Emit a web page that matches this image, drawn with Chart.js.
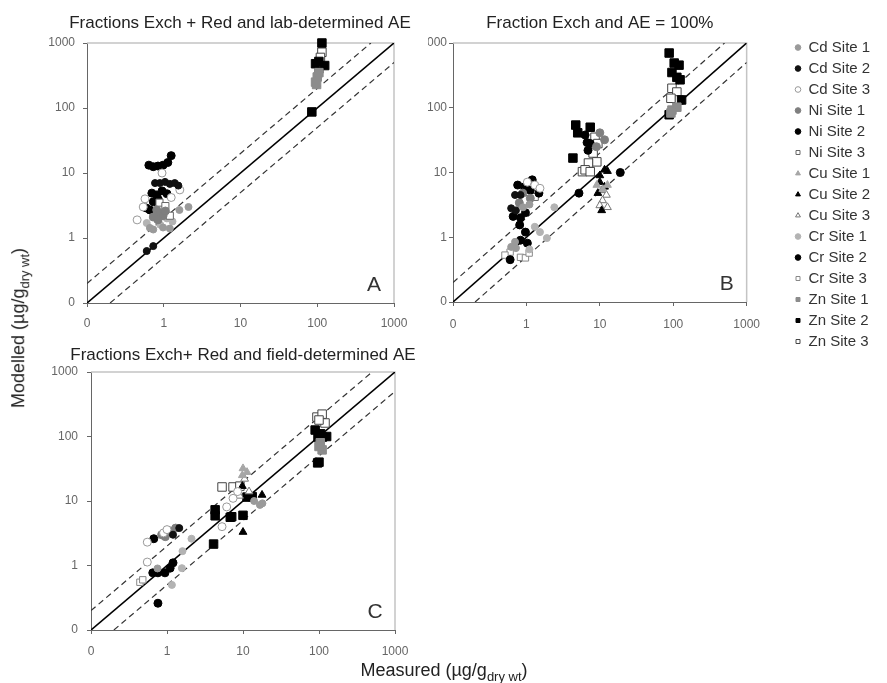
<!DOCTYPE html>
<html>
<head>
<meta charset="utf-8">
<script src="https://cdn.jsdelivr.net/npm/chart.js@4.4.1/dist/chart.umd.min.js"></script>
<style>
  body { margin: 0; width: 887px; height: 683px; overflow: hidden; background: #fff; position: relative;
         font-family: 'Liberation Sans', Arial, sans-serif; color: #222; }
  canvas { position: absolute; }
  .axis-title { position: absolute; font-size: 18px; white-space: nowrap; color: #222; }
  .axis-title sub { font-size: 13px; }
  #yTitle { left: 20px; top: 328px; transform: translate(-50%, -50%) rotate(-90deg); }
  #xTitle { left: 444px; top: 672px; transform: translate(-50%, -50%); }
</style>
</head>
<body>
<canvas id="chartA" width="480" height="340" style="left:0;top:0;width:480px;height:340px"></canvas>
<canvas id="chartB" width="343" height="340" style="left:428px;top:0;width:343px;height:340px"></canvas>
<canvas id="chartC" width="486" height="343" style="left:0;top:340px;width:486px;height:343px"></canvas>
<canvas id="legend" width="98" height="660" style="left:789px;top:34px;width:98px;height:660px"></canvas>
<div id="yTitle" class="axis-title">Modelled (µg/g<sub>dry wt</sub>)</div>
<div id="xTitle" class="axis-title">Measured (µg/g<sub>dry wt</sub>)</div>
<script>
// === Data ===
const seriesNames = ['Cd Site 1', 'Cd Site 2', 'Cd Site 3', 'Ni Site 1', 'Ni Site 2', 'Ni Site 3',
  'Cu Site 1', 'Cu Site 2', 'Cu Site 3', 'Cr Site 1', 'Cr Site 2', 'Cr Site 3',
  'Zn Site 1', 'Zn Site 2', 'Zn Site 3'];
const seriesCodes = ['Cd1', 'Cd2', 'Cd3', 'Ni1', 'Ni2', 'Ni3', 'Cu1', 'Cu2', 'Cu3',
  'Cr1', 'Cr2', 'Cr3', 'Zn1', 'Zn2', 'Zn3'];

const panelTitles = ['Fractions Exch + Red and lab-determined AE', 'Fraction Exch and AE = 100%',
  'Fractions Exch+ Red and field-determined AE'];
const panelLetters = ['A', 'B', 'C'];

const tickValues = [0.1, 1, 10, 100, 1000];
const tickLabels = ['0', '1', '10', '100', '1000'];

// 1:1 line and factor-of-2 lines
const oneToOneX = [0.1, 1000];
const oneToOneY = [0.1, 1000];
const upperX = [0.1, 500];
const upperY = [0.2, 1000];
const lowerX = [0.2, 1000];
const lowerY = [0.1, 500];

// [series, measured, modelled]
const pointsA = [
  ['Ni2', 0.64, 13.2], ['Ni2', 0.73, 12.5], ['Ni2', 0.84, 12.8], ['Ni2', 0.98, 13.2], ['Ni2', 1.13, 14.5], ['Ni2', 1.25, 18.5],
  ['Cd2', 0.77, 7.0], ['Cd2', 0.89, 7.0], ['Cd2', 1.04, 7.3], ['Cd2', 1.2, 6.8], ['Cd2', 1.39, 7.0], ['Cd2', 1.55, 6.4],
  ['Cd2', 0.6, 0.63], ['Cd2', 0.73, 0.75],
  ['Cr2', 0.7, 4.9], ['Cr2', 0.81, 4.6], ['Cr2', 0.95, 5.3], ['Cr2', 1.1, 4.8], ['Cr2', 0.73, 3.6], ['Cr2', 0.66, 2.7],
  ['Cr2', 0.59, 2.9], ['Cr2', 0.85, 3.9],
  ['Cd3', 0.95, 10], ['Cd3', 1.62, 5.5], ['Cd3', 0.57, 4.0], ['Cd3', 0.54, 3.0], ['Cd3', 0.45, 1.9], ['Cd3', 1.25, 4.2],
  ['Ni3', 0.88, 3.5], ['Ni3', 1.05, 3.1], ['Ni3', 1.2, 2.2],
  ['Ni1', 0.81, 2.7], ['Ni1', 0.89, 2.4], ['Ni1', 0.98, 2.2], ['Ni1', 0.73, 2.1], ['Ni1', 0.84, 1.9], ['Ni1', 1.05, 2.6],
  ['Cd1', 0.66, 1.43], ['Cd1', 0.73, 1.35], ['Cd1', 0.98, 1.45], ['Cd1', 1.2, 1.4], ['Cd1', 1.6, 2.7], ['Cd1', 2.1, 3.0],
  ['Cr1', 1.1, 2.0], ['Cr1', 1.3, 1.8], ['Cr1', 0.9, 1.6], ['Cr1', 0.6, 1.7],
  ['Zn2', 115, 1000], ['Zn2', 125, 450], ['Zn2', 95, 480], ['Zn2', 85, 87], ['Zn2', 105, 520],
  ['Zn3', 115, 720], ['Zn3', 110, 600], ['Zn3', 105, 400],
  ['Zn1', 95, 250], ['Zn1', 100, 300], ['Zn1', 105, 350], ['Zn1', 98, 230],
];

const pointsB = [
  ['Ni2', 1.2, 7.7], ['Ni2', 0.76, 6.4], ['Ni2', 0.94, 6.0], ['Ni2', 1.13, 5.3], ['Ni2', 1.48, 4.8],
  ['Cd2', 0.7, 4.5], ['Cd2', 0.83, 4.5], ['Cd2', 0.62, 2.8], ['Cd2', 0.72, 2.6],
  ['Cr2', 0.66, 2.1], ['Cr2', 0.83, 2.0], ['Cr2', 0.97, 2.4],
  ['Cd3', 1.03, 7.1], ['Cd3', 1.3, 6.4], ['Cd3', 1.53, 5.7],
  ['Ni3', 1.03, 5.0], ['Ni3', 1.3, 4.2],
  ['Ni1', 0.89, 4.8], ['Ni1', 1.13, 4.0], ['Ni1', 0.8, 3.4],
  ['Cd1', 0.9, 2.9], ['Cd1', 1.1, 3.2],
  ['Cr2', 0.81, 1.55], ['Cr2', 0.97, 1.2], ['Cr2', 0.83, 0.9], ['Cr2', 1.03, 0.81], ['Cr2', 0.6, 0.45],
  ['Cd1', 0.7, 0.85], ['Cd1', 0.62, 0.71], ['Cd1', 0.72, 0.68],
  ['Cr3', 0.6, 0.59], ['Cr3', 0.83, 0.49], ['Cr3', 0.97, 0.48], ['Cr3', 1.09, 0.57], ['Cr3', 0.51, 0.53],
  ['Cr1', 1.3, 1.45], ['Cr1', 1.53, 1.2], ['Cr1', 1.9, 0.97], ['Cr1', 2.4, 2.9], ['Cr1', 1.1, 0.65],
  ['Zn2', 4.7, 54], ['Zn2', 7.4, 50], ['Zn2', 5.0, 41], ['Zn2', 4.3, 16.7],
  ['Ni2', 6.3, 38], ['Ni2', 6.7, 29], ['Ni2', 6.9, 22], ['Ni2', 7.4, 28],
  ['Zn3', 8.6, 35], ['Zn3', 9.4, 28], ['Zn3', 8.1, 20], ['Zn3', 9.1, 14.6], ['Zn3', 7, 14], ['Zn3', 5.8, 10.3],
  ['Zn3', 6.3, 11], ['Zn3', 7.4, 10.3],
  ['Ni1', 10, 41], ['Ni1', 11.6, 32], ['Ni1', 9, 25],
  ['Cu2', 11.6, 11], ['Cu2', 12.7, 10.5], ['Cu2', 10, 9],
  ['Cr2', 19, 10], ['Cr2', 5.2, 4.8],
  ['Cu2', 10, 7.1], ['Cu2', 11.6, 6], ['Cu2', 9.4, 4.8], ['Cu2', 10.6, 2.6],
  ['Cu3', 10.6, 5.3], ['Cu3', 12.3, 4.5], ['Cu3', 10.9, 3.7], ['Cu3', 10, 3.1], ['Cu3', 12.7, 2.9],
  ['Cu1', 9.1, 6.4], ['Cu1', 12.7, 6.4], ['Cu1', 11, 5.5],
  ['Zn2', 88, 700], ['Zn2', 103, 490], ['Zn2', 120, 455], ['Zn2', 96, 350], ['Zn2', 112, 295], ['Zn2', 124, 270],
  ['Zn2', 88, 78], ['Zn2', 130, 132],
  ['Zn3', 96, 200], ['Zn3', 112, 175], ['Zn3', 120, 132], ['Zn3', 93, 140],
  ['Zn1', 96, 92], ['Zn1', 112, 102], ['Zn1', 93, 83],
];

const pointsC = [
  ['Ni2', 0.67, 2.6], ['Ni2', 1.03, 3.5], ['Ni2', 1.1, 3.3], ['Cd2', 1.2, 3.0], ['Cd2', 1.45, 3.8],
  ['Cd3', 0.55, 2.3], ['Cd3', 0.55, 1.13], ['Cd3', 0.9, 3.2], ['Cd3', 1.0, 3.6],
  ['Ni1', 0.85, 3.0], ['Ni1', 0.95, 2.8], ['Ni1', 1.15, 3.4], ['Ni1', 1.3, 3.8],
  ['Cr2', 0.65, 0.77], ['Cr2', 0.76, 0.77], ['Cr2', 0.94, 0.77], ['Cr2', 1.1, 0.91], ['Cr2', 1.2, 1.1], ['Cr2', 0.76, 0.26],
  ['Cr3', 0.44, 0.55], ['Cr3', 0.48, 0.6],
  ['Cr1', 1.6, 1.67], ['Cr1', 2.1, 2.6], ['Cr1', 1.57, 0.91], ['Cr1', 1.16, 0.5], ['Cd1', 0.75, 0.9],
  ['Zn2', 4.3, 7.3], ['Zn2', 4.3, 5.9], ['Zn2', 6.8, 5.6], ['Zn2', 7.1, 5.7], ['Zn2', 4.1, 2.15], ['Zn2', 10, 6.0],
  ['Zn2', 11.3, 11.5], ['Zn2', 13.2, 11.7],
  ['Zn3', 5.3, 16.5], ['Zn3', 7.4, 16.5], ['Zn3', 9.1, 17],
  ['Cu2', 17.8, 12.4], ['Cu2', 10, 3.3], ['Cu2', 9.8, 17],
  ['Cu1', 10, 32], ['Cu1', 11.3, 28], ['Cu1', 9.8, 25],
  ['Cu3', 10.5, 22], ['Cu3', 12, 14], ['Cu3', 9, 12],
  ['Cd1', 16.7, 8.7], ['Cd1', 18, 9.2], ['Cd1', 14, 10],
  ['Cd3', 5.3, 4.0], ['Cd3', 6.1, 8.1], ['Cd3', 7.4, 11], ['Cd3', 8.5, 14],
  ['Zn3', 94, 200], ['Zn3', 110, 222], ['Zn3', 120, 162], ['Zn3', 100, 180],
  ['Zn2', 89, 126], ['Zn2', 97, 98], ['Zn2', 111, 98], ['Zn2', 126, 100], ['Zn2', 96, 39], ['Zn2', 100, 40], ['Zn2', 105, 110],
  ['Zn1', 104, 80], ['Zn1', 110, 62], ['Zn1', 100, 70],
];

// === Styles ===
const seriesStyles = {
  Cd1: { shape: 'circle', fill: '#9a9a9a', stroke: '#9a9a9a', r: 3.5 },
  Cd2: { shape: 'circle', fill: '#111', stroke: '#111', r: 3.5 },
  Cd3: { shape: 'circle', fill: '#fff', stroke: '#999', r: 4 },
  Ni1: { shape: 'circle', fill: '#7f7f7f', stroke: '#7f7f7f', r: 4 },
  Ni2: { shape: 'circle', fill: '#000', stroke: '#000', r: 4 },
  Ni3: { shape: 'rect', fill: '#fff', stroke: '#666', r: 5 },
  Cu1: { shape: 'triangle', fill: '#a6a6a6', stroke: '#a6a6a6', r: 4.5 },
  Cu2: { shape: 'triangle', fill: '#000', stroke: '#000', r: 4.5 },
  Cu3: { shape: 'triangle', fill: '#fff', stroke: '#777', r: 4.5 },
  Cr1: { shape: 'circle', fill: '#b3b3b3', stroke: '#b3b3b3', r: 3.5 },
  Cr2: { shape: 'circle', fill: '#000', stroke: '#000', r: 4 },
  Cr3: { shape: 'rect', fill: '#fff', stroke: '#888', r: 4.5 },
  Zn1: { shape: 'rect', fill: '#8c8c8c', stroke: '#8c8c8c', r: 6 },
  Zn2: { shape: 'rect', fill: '#000', stroke: '#000', r: 6 },
  Zn3: { shape: 'rect', fill: '#fff', stroke: '#444', r: 6 },
};

Chart.defaults.font.family = "'Liberation Sans', Arial, sans-serif";
Chart.defaults.animation = false;

// light grey top/right frame of the plot box
const framePlugin = {
  id: 'frame',
  beforeDatasetsDraw(chart) {
    const { ctx, chartArea: a } = chart;
    ctx.save();
    ctx.strokeStyle = '#c4c4c4';
    ctx.lineWidth = 1.5;
    ctx.beginPath();
    ctx.moveTo(a.left, a.top);
    ctx.lineTo(a.right, a.top);
    ctx.lineTo(a.right, a.bottom);
    ctx.stroke();
    ctx.restore();
  },
};

const letterPlugin = {
  id: 'letter',
  afterDatasetsDraw(chart, args, opts) {
    const { ctx, chartArea: a } = chart;
    ctx.save();
    ctx.font = "21px 'Liberation Sans', Arial, sans-serif";
    ctx.fillStyle = '#333';
    ctx.textAlign = 'center';
    ctx.textBaseline = 'middle';
    ctx.fillText(opts.text, a.right - 20, a.bottom - 18);
    ctx.restore();
  },
};

function styleSet(code, i) {
  const st = seriesStyles[code];
  return {
    label: seriesNames[i],
    pointStyle: st.shape,
    pointRadius: st.r,
    pointHoverRadius: st.r,
    backgroundColor: st.fill,
    borderColor: st.stroke,
    borderWidth: 1,
    showLine: false,
    order: 0,
    clip: 8,
  };
}

function refLine(xs, ys, color, dash, width) {
  return {
    data: xs.map((x, i) => ({ x, y: ys[i] })),
    showLine: true,
    pointRadius: 0,
    borderColor: color,
    borderDash: dash,
    borderWidth: width,
    fill: false,
    order: 1,
  };
}

function buildDatasets(rows) {
  const sets = seriesCodes.map((code, i) => Object.assign(styleSet(code, i), {
    data: rows.filter(r => r[0] === code).map(r => ({ x: r[1], y: r[2] })),
  }));
  sets.push(refLine(oneToOneX, oneToOneY, '#000', [], 1.6));
  sets.push(refLine(upperX, upperY, '#333', [6, 4], 1.2));
  sets.push(refLine(lowerX, lowerY, '#333', [6, 4], 1.2));
  return sets;
}

function logAxis(isX, size, pad) {
  return {
    type: 'logarithmic',
    min: 0.1,
    max: 1000,
    afterBuildTicks: s => { s.ticks = tickValues.map(v => ({ value: v })); },
    afterFit: s => { if (isX) s.height = size; else s.width = size; },
    ticks: {
      callback: v => tickLabels[tickValues.indexOf(v)] ?? '',
      color: '#666',
      font: { size: 12 },
      padding: pad,
      autoSkip: false,
      maxRotation: 0,
    },
    grid: { drawOnChartArea: false, drawTicks: true, tickLength: 4, color: '#666' },
    border: { color: '#666', width: 1 },
  };
}

// empty box on the right so the full-width title centres over the plot
function spacerAxis(width) {
  return {
    position: 'right',
    afterFit: s => { s.width = width; },
    ticks: { display: false },
    grid: { display: false, drawTicks: false },
    border: { display: false },
  };
}

function makePanel(id, rows, idx, g) {
  const scales = {
    x: logAxis(true, g.xHeight, g.xPad),
    y: logAxis(false, g.yWidth, g.yPad),
  };
  if (g.rightWidth) scales.ySpacer = spacerAxis(g.rightWidth);
  return new Chart(document.getElementById(id), {
    type: 'scatter',
    data: { datasets: buildDatasets(rows) },
    options: {
      responsive: false,
      layout: { padding: { left: 0, right: g.padRight, top: 0, bottom: 0 } },
      plugins: {
        legend: { display: false },
        tooltip: { enabled: false },
        title: {
          display: true,
          text: panelTitles[idx],
          fullSize: g.fullTitle,
          color: '#222',
          font: { size: 17, weight: 'normal' },
          padding: { top: g.titleTop, bottom: g.titleBottom },
        },
        letter: { text: panelLetters[idx] },
      },
      scales,
    },
    plugins: [framePlugin, letterPlugin],
  });
}

makePanel('chartA', pointsA, 0, { yWidth: 87, xHeight: 37, padRight: 0, rightWidth: 86, titleTop: 12.8, titleBottom: 9.8, xPad: 9, yPad: 8, fullTitle: true });
makePanel('chartB', pointsB, 1, { yWidth: 25, xHeight: 38, padRight: 14, titleTop: 12.8, titleBottom: 9.8, xPad: 11, yPad: 2, fullTitle: false });
makePanel('chartC', pointsC, 2, { yWidth: 91, xHeight: 53, padRight: 0, rightWidth: 91, titleTop: 4.8, titleBottom: 6.8, xPad: 10, yPad: 9, fullTitle: true });

// === Legend ===
new Chart(document.getElementById('legend'), {
  type: 'scatter',
  data: { datasets: seriesCodes.map((code, i) => Object.assign(styleSet(code, i), { data: [] })) },
  options: {
    responsive: false,
    layout: { padding: 0 },
    scales: { x: { display: false }, y: { display: false } },
    plugins: {
      tooltip: { enabled: false },
      legend: {
        position: 'top',
        align: 'start',
        labels: {
          usePointStyle: true,
          boxWidth: 6,
          boxHeight: 4,
          padding: 6,
          color: '#333',
          font: { size: 15 },
        },
      },
    },
  },
});
</script>
</body>
</html>
